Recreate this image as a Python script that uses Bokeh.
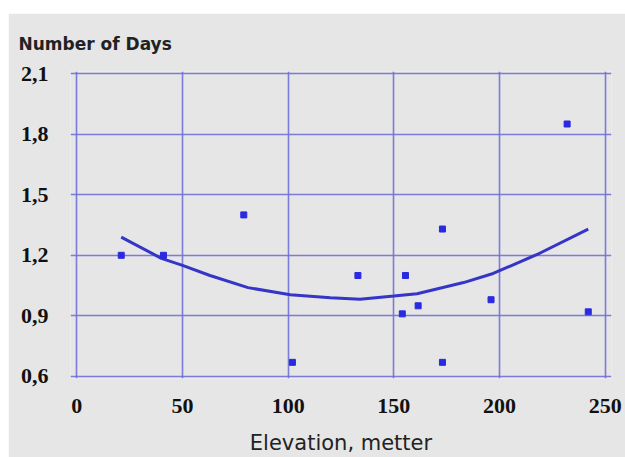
from bokeh.plotting import figure
from bokeh.models import FixedTicker, Spacer
from bokeh.layouts import column, row
from bokeh.embed import file_html
from bokeh.resources import INLINE

# Scatter data: elevation (m) vs number of days
elev = [21, 41, 79, 102, 133, 154, 155.5, 161.5, 173, 173, 196, 232, 242]
days = [1.20, 1.20, 1.40, 0.67, 1.10, 0.91, 1.10, 0.95, 1.33, 0.67, 0.98, 1.85, 0.92]

# Trend curve
trend_x = [21, 40, 50, 63, 81, 101, 120, 134, 150, 161, 183, 197, 219, 242]
trend_y = [1.29, 1.185, 1.15, 1.10, 1.04, 1.005, 0.99, 0.982, 0.998, 1.01, 1.065, 1.11, 1.21, 1.33]

x_ticks = [0, 50, 100, 150, 200, 250]
y_ticks = [0.6, 0.9, 1.2, 1.5, 1.8, 2.1]
y_tick_labels = ["0,6", "0,9", "1,2", "1,5", "1,8", "2,1"]

BG = "#e6e6e6"
GRID = "#6f6fd6"

p = figure(width=617, height=444, output_backend="svg", toolbar_location=None,
           x_range=(-3, 253), y_range=(0.59, 2.11),
           min_border_left=62, min_border_right=14, min_border_top=58, min_border_bottom=79)
p.background_fill_color = BG
p.border_fill_color = BG
p.outline_line_color = None

p.title.text = "Number of Days"
p.title.align = "left"
p.title.offset = -52
p.title.standoff = 36
p.title.text_font = "DejaVu Sans"
p.title.text_font_size = "17px"
p.title.text_font_style = "bold"
p.title.text_color = "#222222"

for g in (p.xgrid, p.ygrid):
    g.grid_line_color = GRID
    g.grid_line_width = 1.6
    g.grid_line_alpha = 0.9
p.xgrid.ticker = FixedTicker(ticks=x_ticks)
p.ygrid.ticker = FixedTicker(ticks=y_ticks)

p.xaxis.ticker = FixedTicker(ticks=x_ticks)
p.yaxis.ticker = FixedTicker(ticks=y_ticks)
p.yaxis.major_label_overrides = {t: l for t, l in zip(y_ticks, y_tick_labels)}

for ax in (p.xaxis, p.yaxis):
    ax.axis_line_color = None
    ax.major_tick_line_color = None
    ax.minor_tick_line_color = None
    ax.major_tick_in = 0
    ax.major_tick_out = 0
    ax.major_label_text_font = "Liberation Serif"
    ax.major_label_text_font_style = "bold"
    ax.major_label_text_font_size = "22px"
    ax.major_label_text_color = "#111111"
p.yaxis.major_label_standoff = 22
p.xaxis.major_label_standoff = 20

p.xaxis.axis_label = "Elevation, metter"
p.xaxis.axis_label_standoff = 15
p.xaxis.axis_label_text_font = "DejaVu Sans"
p.xaxis.axis_label_text_font_style = "normal"
p.xaxis.axis_label_text_font_size = "21px"
p.xaxis.axis_label_text_color = "#222222"

p.line(trend_x, trend_y, line_color="#3535c8", line_width=3)
p.scatter(elev, days, marker="square", size=6, fill_color="#2a2ae0", line_color="#2a2ae0")

layout = column(Spacer(height=13, width=625),
                row(Spacer(width=8, height=444), p, spacing=0),
                spacing=0)

open("out.html", "w").write(file_html(layout, INLINE))
